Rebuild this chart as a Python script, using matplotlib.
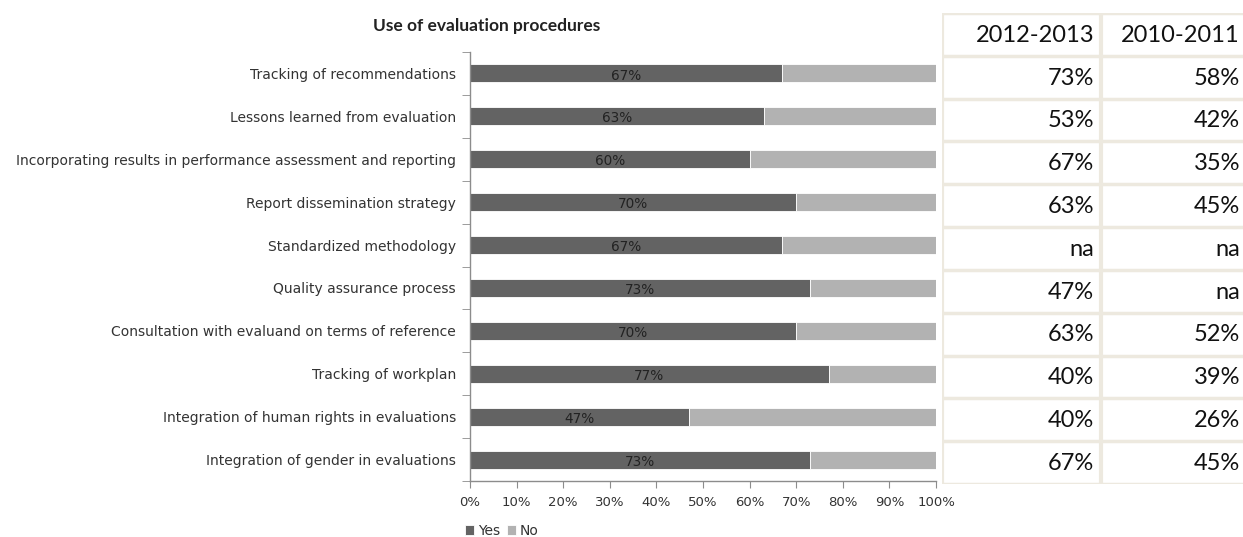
import matplotlib
matplotlib.use("Agg")
import matplotlib.pyplot as plt
import numpy as np

# data, listed top to bottom as in the chart
categories = [
    "Tracking of recommendations",
    "Lessons learned from evaluation",
    "Incorporating results in performance assessment and reporting",
    "Report dissemination strategy",
    "Standardized methodology",
    "Quality assurance process",
    "Consultation with evaluand on terms of reference",
    "Tracking of workplan",
    "Integration of human rights in evaluations",
    "Integration of gender in evaluations",
]
yes_share = [67, 63, 60, 70, 67, 73, 70, 77, 47, 73]
no_share = [100 - v for v in yes_share]

table_headers = ["2012-2013", "2010-2011"]
col_2012_2013 = ["73%", "53%", "67%", "63%", "na", "47%", "63%", "40%", "40%", "67%"]
col_2010_2011 = ["58%", "42%", "35%", "45%", "na", "na", "52%", "39%", "26%", "45%"]

DARK = "#636363"
LIGHT = "#b2b2b2"
AXIS = "#8c8c8c"
GRID = "#ede9df"

W, H = 1243, 537
fig = plt.figure(figsize=(W / 100, H / 100), dpi=100)

# ---- bar chart ----
ax = fig.add_axes([470 / W, 1 - 481 / H, (936 - 470) / W, (481 - 52) / H])
y = np.arange(len(categories))
ax.barh(y, yes_share, height=0.42, color=DARK, edgecolor="white", linewidth=0.6, label="Yes")
ax.barh(y, no_share, left=yes_share, height=0.42, color=LIGHT, edgecolor="white", linewidth=0.6, label="No")
for yi, v in zip(y, yes_share):
    ax.text(v / 2, yi + 0.05, f"{v}%", ha="center", va="center", fontsize=9.8, color="#222222")

ax.set_xlim(0, 100)
ax.set_ylim(len(categories) - 0.5, -0.5)
ax.set_xticks(np.arange(0, 101, 10))
ax.set_xticklabels([f"{t}%" for t in range(0, 101, 10)], fontsize=9.5, color="#333333")
ax.set_yticks(y)
ax.set_yticklabels(categories, fontsize=10, color="#333333")
ax.set_yticks(np.arange(-0.5, len(categories), 1), minor=True)
ax.tick_params(axis="y", which="major", length=0, pad=10)
ax.tick_params(axis="y", which="minor", length=6, color=AXIS)
ax.tick_params(axis="x", length=5, color=AXIS, pad=6)
for side in ["top", "right"]:
    ax.spines[side].set_visible(False)
for side in ["left", "bottom"]:
    ax.spines[side].set_color(AXIS)
    ax.spines[side].set_linewidth(1)

fig.text(487 / W, 1 - 26 / H, "Use of evaluation procedures", ha="center", va="center",
         fontsize=12.5, fontweight="bold", family="Lato", color="#222222")

handles, labels = ax.get_legend_handles_labels()
fig.legend(handles, labels, loc="center left", bbox_to_anchor=(452 / W, 1 - 531 / H), ncol=2,
           frameon=False, fontsize=10, handlelength=0.7, handleheight=0.7, handletextpad=0.25,
           columnspacing=0.5, labelcolor="#333333")

# ---- side table ----
tx = fig.add_axes([942 / W, 1 - 484 / H, (W - 942) / W, (484 - 13) / H])
n_rows = len(col_2012_2013) + 1
tx.set_xlim(0, 2)
tx.set_ylim(n_rows - 0.5, -0.5)
tx.axis("off")
for edge in np.arange(-0.5, n_rows, 1):
    tx.axhline(edge, color=GRID, linewidth=2.5, xmin=0, xmax=1)
tx.axvline(0, color=GRID, linewidth=3)
tx.axvline(1.055, color=GRID, linewidth=3)

rows = [table_headers] + [list(p) for p in zip(col_2012_2013, col_2010_2011)]
col_right = [1.01, 1.98]
for r, row in enumerate(rows):
    for c, val in enumerate(row):
        tx.text(col_right[c], r + 0.02, val, ha="right", va="center",
                fontsize=17, family="Lato", color="#111111")

fig.savefig("out.png", dpi=100)
